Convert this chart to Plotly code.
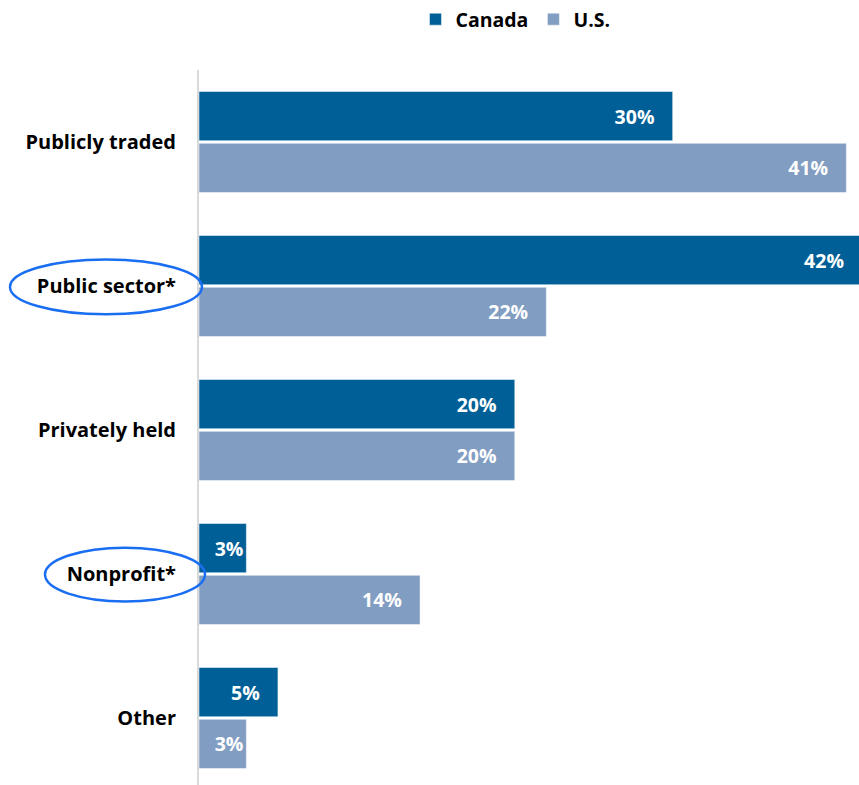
import plotly.graph_objects as go

# Share of respondents by organization type
categories = ["Publicly traded", "Public sector*", "Privately held", "Nonprofit*", "Other"]
canada = [30, 42, 20, 3, 5]
us = [41, 22, 20, 14, 3]
series_names = ["Canada", "U.S."]

CANADA_COLOR = "#005f96"
US_COLOR = "#829dc2"
RING_COLOR = "#1a6ef2"
FONT = "Open Sans"

PAD = "\u00a0\u00a0\u00a0"


def labels(values):
    # short bars keep their label tight to the bar end
    return [f"{v}%" + (PAD if v >= 4 else "") for v in values]


fig = go.Figure()
for name, vals, color in [(series_names[0], canada, CANADA_COLOR),
                          (series_names[1], us, US_COLOR)]:
    fig.add_trace(go.Bar(
        name=name,
        y=categories,
        x=vals,
        orientation="h",
        marker=dict(color=color, line=dict(color="white", width=0.5)),
        text=labels(vals),
        textposition="inside",
        insidetextanchor="end",
        textangle=0,
        textfont=dict(family=FONT, size=19.5, color="white", weight="bold"),
        constraintext="none",
        cliponaxis=True,
    ))

fig.update_layout(
    width=859,
    height=785,
    margin=dict(l=199, r=0, t=68, b=0),
    paper_bgcolor="white",
    plot_bgcolor="white",
    barmode="group",
    bargap=0.28,
    bargroupgap=0.05,
    showlegend=True,
    legend=dict(
        orientation="h",
        x=0.328, xanchor="left",
        y=1.071, yanchor="middle",
        font=dict(family=FONT, size=19.5, color="black", weight="bold"),
        traceorder="normal",
        itemwidth=30,
    ),
    xaxis=dict(
        range=[0, 41.8],
        showgrid=False,
        zeroline=False,
        showticklabels=False,
        showline=False,
    ),
    yaxis=dict(
        type="category",
        range=[4.465, -0.5],
        showgrid=False,
        zeroline=False,
        showline=True,
        linecolor="#d9d9d9",
        linewidth=2,
        ticks="",
        ticklabelstandoff=17,
        tickfont=dict(family=FONT, size=20, color="black", weight="bold"),
    ),
    uniformtext=dict(mode=False),
)

# rings highlighting the two flagged categories (pixel positions mapped to paper space)
def px_x(p):
    return (p - 199) / 660


def px_y(p):
    return (785 - p) / 717


for x0, x1, y0, y1 in [(10, 202, 258, 313), (45, 205, 547, 601)]:
    fig.add_shape(
        type="circle",
        xref="paper", yref="paper",
        x0=px_x(x0), x1=px_x(x1),
        y0=px_y(y1), y1=px_y(y0),
        line=dict(color=RING_COLOR, width=2.5),
        fillcolor="rgba(0,0,0,0)",
        layer="above",
    )

fig.write_html("out.html")
